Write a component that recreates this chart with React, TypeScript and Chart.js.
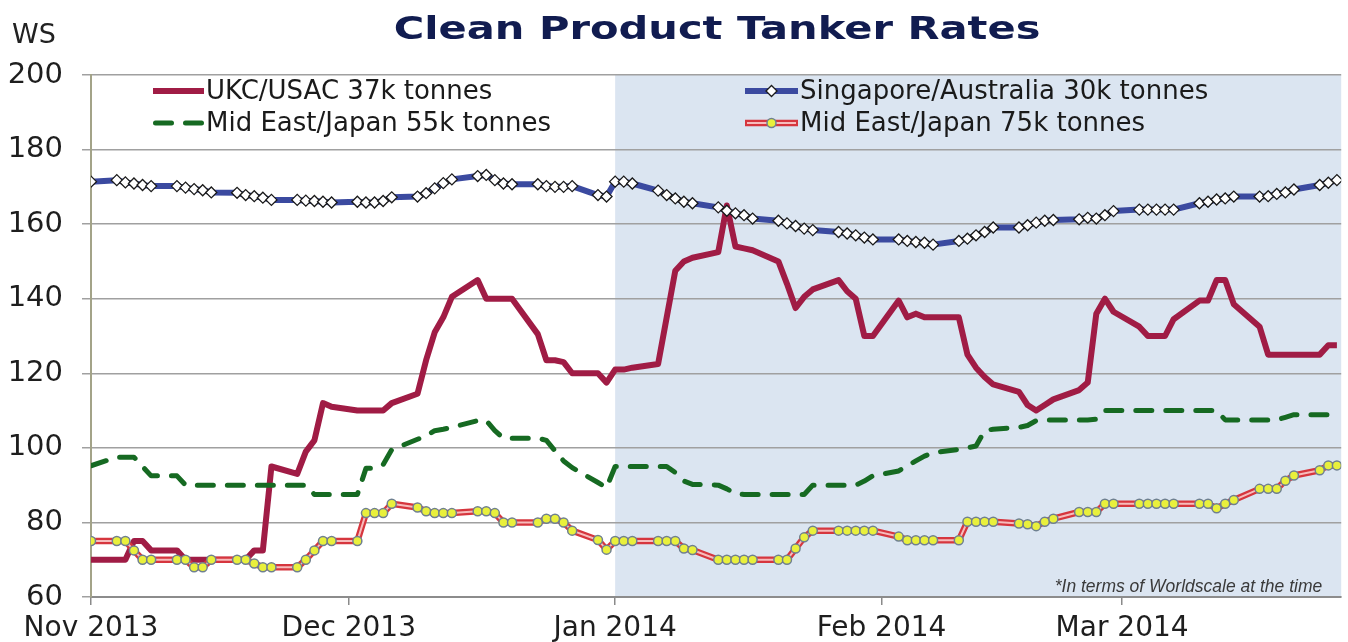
import React, { useEffect, useRef } from "react";
import { Chart, registerables } from "chart.js";
import { drawPoint } from "chart.js/helpers";

Chart.register(...registerables);

const START = "2013-11-01";
const END = "2014-03-26";
const SHADE_FROM = "2014-01-01";
const MONTH_TICKS = ["2013-11-01", "2013-12-01", "2014-01-01", "2014-02-01", "2014-03-01"];
const MONTH_LABELS = ["Nov 2013", "Dec 2013", "Jan 2014", "Feb 2014", "Mar 2014"];
const Y_MIN = 60;
const Y_MAX = 200;
const Y_STEP = 20;

const TITLE = "Clean Product Tanker Rates";
const Y_UNIT = "WS";
const FOOTNOTE = "*In terms of Worldscale at the time";

const SERIES_LABELS = [
  "UKC/USAC 37k tonnes",
  "Singapore/Australia 30k tonnes",
  "Mid East/Japan 55k tonnes",
  "Mid East/Japan 75k tonnes",
];

const UKC_37K = [
  70,
  70, 70, 75, 75, 72.5,
  72.5, 70, 70, 70, 70,
  70, 70, 72.5, 72.5, 95,
  93, 99, 102, 112, 111,
  110, 110, 110, 110, 112,
  114.5, 123.5, 131, 135, 140.5,
  145, 140, 140, 140, 140,
  130.5, 123.5, 123.5, 123, 120,
  120, 117.5, 121, 121, 121.5,
  122.5, 135, 147.5, 150, 151,
  152.5, 165, 154, 153.5, 153,
  150, 144, 137.5, 140.5, 142.5,
  145, 142, 140, 130, 130,
  139.5, 135, 136, 135, 135,
  135, 125, 121.5, 119, 117,
  115, 111.5, 110, 111.5, 113,
  115.5, 117.5, 136, 140, 136.5,
  132.5, 130, 130, 130, 134.5,
  139.5, 139.5, 145, 145, 138.5,
  132.5, 125, 125, 125, 125,
  125, 127.5, 127.5,
];

const SING_30K = [
  171.4,
  171.8, 171.2, 170.9, 170.5, 170.2,
  170.2, 169.8, 169.4, 169.1, 168.5,
  168.4, 167.8, 167.5, 167.1, 166.5,
  166.5, 166.3, 166.2, 166, 165.8,
  166, 165.8, 165.8, 166.2, 167.2,
  167.4, 168.3, 169.6, 171, 172,
  172.9, 173.2, 171.8, 170.9, 170.7,
  170.7, 170.2, 170, 170, 170.2,
  167.8, 167.4, 171.4, 171.4, 170.9,
  169, 167.8, 166.9, 166, 165.6,
  164.5, 163.6, 162.9, 162.4, 161.5,
  160.9, 160.2, 159.5, 158.8, 158.4,
  157.9, 157.5, 157, 156.4, 155.9,
  155.9, 155.5, 155.2, 155, 154.5,
  155.5, 156.1, 157, 157.9, 159.1,
  159.1, 159.7, 160.4, 160.9, 161.1,
  161.3, 161.7, 161.5, 162.4, 163.5,
  163.9, 163.9, 163.9, 163.9, 163.9,
  165.6, 166, 166.6, 166.9, 167.4,
  167.4, 167.5, 168.1, 168.5, 169.3,
  170.5, 171.1, 171.8,
];

const MEJ_55K = [
  95.2,
  97.5, 97.5, 97.5, 95, 92.5,
  92.5, 90, 90, 90, 90,
  90, 90, 90, 90, 90,
  90, 90, 87.5, 87.5, 87.5,
  87.5, 94.5, 94.5, 95.5, 99.5,
  102.3, 103.2, 104.6, 105, 105.5,
  107.3, 107.3, 104.6, 102.6, 102.6,
  102.6, 102, 99.2, 96.5, 94.7,
  90.7, 89.3, 95, 95, 95,
  95, 95, 93.4, 91.1, 90.2,
  90, 89, 87.7, 87.5, 87.5,
  87.5, 87.5, 87.5, 87.5, 90,
  90, 90, 90, 91.1, 92.5,
  93.8, 95.2, 96.5, 97.8, 98.7,
  99.6, 100, 100.5, 104.6, 105,
  105.5, 106, 107.3, 107.5, 107.5,
  107.5, 107.5, 107.7, 110, 110,
  110, 110, 110, 110, 110,
  110, 110, 110, 107.5, 107.5,
  107.5, 107.5, 107.5, 108.2, 108.9,
  108.9, 108.9, 108.9,
];

const MEJ_75K = [
  75,
  75, 75, 72.5, 70, 70,
  70, 70, 68, 68, 70,
  70, 70, 69, 68, 68,
  68, 70, 72.5, 75, 75,
  75, 82.5, 82.5, 82.5, 85,
  84, 83, 82.5, 82.5, 82.5,
  83, 83, 82.5, 80, 80,
  80, 81, 81, 80, 77.8,
  75.3, 72.7, 75, 75, 75,
  75, 75, 75, 73, 72.6,
  70, 70, 70, 70, 70,
  70, 70, 73, 76, 77.8,
  77.8, 77.8, 77.8, 77.8, 77.8,
  76.2, 75.2, 75.2, 75.2, 75.2,
  75.2, 80.2, 80.2, 80.2, 80.2,
  79.7, 79.5, 79, 80.2, 81,
  82.8, 82.8, 82.8, 85, 85,
  85, 85, 85, 85, 85,
  85, 85, 83.8, 85, 86,
  89, 89, 89, 91.2, 92.6,
  94, 95.3, 95.3,
];

const DAY_MS = 86400000;
const utc = (s: string) => {
  const [y, m, d] = s.split("-").map(Number);
  return Date.UTC(y, m - 1, d);
};
const dayOf = (s: string) => Math.round((utc(s) - utc(START)) / DAY_MS);

const weekdays: number[] = [];
for (let t = 0; t <= dayOf(END); t++) {
  const dow = new Date(utc(START) + t * DAY_MS).getUTCDay();
  if (dow !== 0 && dow !== 6) weekdays.push(t);
}
const toPoints = (vals: number[]) => vals.map((v, i) => ({ x: weekdays[i], y: v }));

const MONTH_TICK_DAYS = MONTH_TICKS.map(dayOf);

const FONT = "'DejaVu Sans', 'Noto Sans', sans-serif";

const shadePlugin = {
  id: "shade",
  beforeDraw(chart: any) {
    const { ctx, chartArea, scales } = chart;
    const x0 = scales.x.getPixelForValue(dayOf(SHADE_FROM));
    ctx.save();
    ctx.fillStyle = "#dbe5f1";
    ctx.fillRect(x0, chartArea.top, chartArea.right - x0, chartArea.bottom - chartArea.top);
    ctx.restore();
  },
};

function drawSample(ctx: CanvasRenderingContext2D, ds: any, x0: number, x1: number, y: number) {
  ctx.save();
  ctx.strokeStyle = ds.borderColor;
  ctx.lineWidth = ds.borderWidth;
  ctx.setLineDash(ds.borderDash || []);
  ctx.lineCap = ds.borderCapStyle || "butt";
  const inset = ds.borderCapStyle === "round" ? ds.borderWidth / 2 : 0;
  ctx.beginPath();
  ctx.moveTo(x0 + inset, y);
  ctx.lineTo(x1 - inset, y);
  ctx.stroke();
  ctx.setLineDash([]);
  if (ds.pointRadius > 0) {
    ctx.fillStyle = ds.pointBackgroundColor;
    ctx.strokeStyle = ds.pointBorderColor;
    ctx.lineWidth = ds.pointBorderWidth;
    drawPoint(
      ctx,
      { pointStyle: ds.pointStyle, rotation: 0, radius: ds.pointRadius, borderWidth: ds.pointBorderWidth } as any,
      (x0 + x1) / 2,
      y
    );
  }
  ctx.restore();
}

const legendPlugin = {
  id: "colLegend",
  afterDatasetsDraw(chart: any) {
    const { ctx, chartArea } = chart;
    const datasets = chart.data.datasets;
    const cols = [
      { x0: chartArea.left + 62, x1: chartArea.left + 113 },
      { x0: chartArea.left + 654, x1: chartArea.left + 707 },
    ];
    const rows = [chartArea.top + 16, chartArea.top + 48];
    datasets.forEach((ds: any) => {
      if (ds.legendCol === undefined) return;
      const c = cols[ds.legendCol];
      const y = rows[ds.legendRow];
      drawSample(ctx, ds, c.x0, c.x1, y);
      if (ds.legendOverlay !== undefined) {
        const over = datasets.find((d: any) => d.overlayId === ds.legendOverlay);
        if (over) drawSample(ctx, over, c.x0 + 2, c.x1 - 2, y);
      }
      ctx.save();
      ctx.font = `26px ${FONT}`;
      ctx.fillStyle = "#1a1a1a";
      ctx.textAlign = "left";
      ctx.textBaseline = "middle";
      ctx.fillText(ds.label, c.x1 + 2, y + 1);
      ctx.restore();
    });
  },
};

const textPlugin = {
  id: "texts",
  afterDraw(chart: any) {
    const { ctx, chartArea } = chart;
    ctx.save();
    ctx.font = `bold 32px ${FONT}`;
    ctx.fillStyle = "#111c50";
    ctx.textAlign = "center";
    ctx.textBaseline = "alphabetic";
    ctx.translate((chartArea.left + chartArea.right) / 2 + 1, 39);
    ctx.scale(1.3, 1);
    ctx.fillText(TITLE, 0, 0);
    ctx.restore();

    ctx.save();
    ctx.font = `27px ${FONT}`;
    ctx.fillStyle = "#222";
    ctx.textAlign = "left";
    ctx.textBaseline = "alphabetic";
    ctx.fillText(Y_UNIT, 12, 43);
    ctx.restore();

    ctx.save();
    ctx.font = "italic 17.5px 'Liberation Sans', sans-serif";
    ctx.fillStyle = "#3a3a3a";
    ctx.textAlign = "right";
    ctx.textBaseline = "alphabetic";
    ctx.fillText(FOOTNOTE, chartArea.right - 19, chartArea.bottom - 5);
    ctx.restore();
  },
};

export default function App() {
  const ref = useRef<HTMLCanvasElement | null>(null);

  useEffect(() => {
    if (!ref.current) return;
    const chart = new Chart(ref.current, {
      type: "line",
      data: {
        datasets: [
          {
            label: SERIES_LABELS[3] + " ",
            overlayId: "75k",
            data: toPoints(MEJ_75K),
            borderColor: "#f7bcbc",
            borderWidth: 2,
            pointRadius: 4.5,
            pointStyle: "circle",
            pointBackgroundColor: "#e9f03c",
            pointBorderColor: "#6f8090",
            pointBorderWidth: 1.5,
            order: 0,
          } as any,
          {
            label: SERIES_LABELS[3],
            legendCol: 1,
            legendRow: 1,
            legendOverlay: "75k",
            data: toPoints(MEJ_75K),
            borderColor: "#d6363e",
            borderWidth: 6.5,
            pointRadius: 0,
            order: 1,
          } as any,
          {
            label: SERIES_LABELS[1],
            legendCol: 1,
            legendRow: 0,
            data: toPoints(SING_30K),
            borderColor: "#3b4aa0",
            borderWidth: 6,
            pointRadius: 5.5,
            pointStyle: "rectRot",
            pointBackgroundColor: "#ffffff",
            pointBorderColor: "#1a1a1a",
            pointBorderWidth: 1.3,
            order: 2,
          } as any,
          {
            label: SERIES_LABELS[2],
            legendCol: 0,
            legendRow: 1,
            data: toPoints(MEJ_55K),
            borderColor: "#166a22",
            borderWidth: 5,
            borderDash: [16, 14],
            borderCapStyle: "round",
            pointRadius: 0,
            order: 3,
          } as any,
          {
            label: SERIES_LABELS[0],
            legendCol: 0,
            legendRow: 0,
            data: toPoints(UKC_37K),
            borderColor: "#a01c45",
            borderWidth: 6,
            borderJoinStyle: "round",
            pointRadius: 0,
            order: 4,
          } as any,
        ],
      },
      options: {
        animation: false,
        responsive: false,
        devicePixelRatio: 1,
        layout: { padding: { top: 75, left: 0, right: 0, bottom: 0 } },
        elements: { line: { tension: 0, borderJoinStyle: "round" } },
        plugins: {
          legend: { display: false },
          tooltip: { enabled: false },
          title: { display: false },
        },
        scales: {
          x: {
            type: "linear",
            min: 0,
            max: dayOf(END) + 0.5,
            afterBuildTicks: (scale: any) => {
              scale.ticks = MONTH_TICK_DAYS.map((v) => ({ value: v }));
            },
            afterFit: (scale: any) => {
              scale.height = 45;
            },
            ticks: {
              autoSkip: false,
              maxRotation: 0,
              padding: 7,
              color: "#1e1e1e",
              font: { family: FONT, size: 28 },
              callback: (v: any) => {
                const i = MONTH_TICK_DAYS.indexOf(Number(v));
                return i >= 0 ? MONTH_LABELS[i] : "";
              },
            },
            grid: {
              drawOnChartArea: false,
              drawTicks: true,
              tickLength: 8,
              color: "#8a8a8a",
              lineWidth: 1.5,
            },
            border: { display: true, color: "#8c8c8c", width: 2 },
          },
          y: {
            type: "linear",
            min: Y_MIN,
            max: Y_MAX,
            afterFit: (scale: any) => {
              scale.width = 91;
            },
            ticks: {
              stepSize: Y_STEP,
              padding: 19,
              color: "#1e1e1e",
              font: { family: FONT, size: 29 },
            },
            grid: {
              color: "#a0a0a0",
              lineWidth: 1.5,
              tickLength: 9,
            },
            border: { display: true, color: "#a3a388", width: 2 },
          },
        },
      },
      plugins: [shadePlugin, legendPlugin, textPlugin],
    });
    return () => chart.destroy();
  }, []);

  return (
    <div style={{ position: "absolute", left: 0, top: 0, width: 1348, height: 642, background: "#fff" }}>
      <canvas ref={ref} width={1348} height={642} style={{ display: "block" }} />
    </div>
  );
}
